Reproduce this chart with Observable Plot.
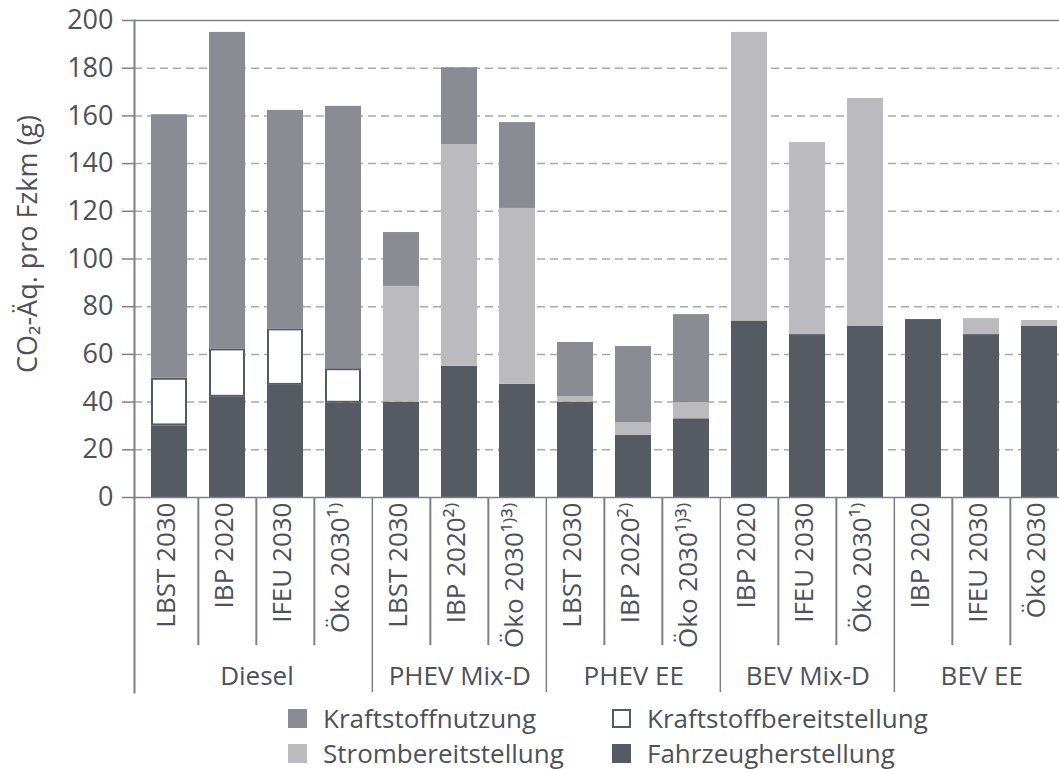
<!DOCTYPE html>
<html>
<head>
<meta charset="utf-8">
<script src="https://cdn.jsdelivr.net/npm/d3@7"></script>
<script src="https://cdn.jsdelivr.net/npm/@observablehq/plot@0.6"></script>
<style>
  html, body { margin: 0; padding: 0; background: #fff; overflow: hidden; }
  #chart svg { overflow: hidden; }
  .legend { position: relative; height: 74px; font-family: "Open Sans", sans-serif; font-size: 26px; color: #4d5159; }
  .item { position: absolute; display: flex; align-items: center; height: 28px; }
  .sw { width: 19px; height: 19px; margin-right: 16px; box-sizing: border-box; }
</style>
</head>
<body>
<div id="chart"></div>
<div class="legend" id="legend"></div>
<script>
const groups = ["Diesel", "PHEV Mix-D", "PHEV EE", "BEV Mix-D", "BEV EE"];
const groupSizes = [4, 3, 3, 3, 3];
const barLabels = [
  "LBST 2030", "IBP 2020", "IFEU 2030", "Öko 2030¹⁾",
  "LBST 2030", "IBP 2020²⁾", "Öko 2030¹⁾³⁾",
  "LBST 2030", "IBP 2020²⁾", "Öko 2030¹⁾³⁾",
  "IBP 2020", "IFEU 2030", "Öko 2030¹⁾",
  "IBP 2020", "IFEU 2030", "Öko 2030"
];
const series = ["Fahrzeugherstellung", "Kraftstoffbereitstellung", "Strombereitstellung", "Kraftstoffnutzung"];
const seriesColors = ["#565a63", "#ffffff", "#bbbbbf", "#8b8b93"];

const fahrzeugherstellung      = [30, 42, 47, 39.5, 40, 55, 47.5, 40, 26, 33, 74, 68.3, 71.7, 74.6, 68.3, 71.7];
const kraftstoffbereitstellung = [20, 20.3, 23.7, 14.5, 0, 0, 0, 0, 0, 0, 0, 0, 0, 0, 0, 0];
const strombereitstellung      = [0, 0, 0, 0, 48.5, 93, 73.7, 2.3, 5.4, 6.8, 121, 80.5, 95.6, 0, 6.7, 2.5];
const kraftstoffnutzung        = [110.5, 132.7, 91.6, 110, 22.6, 32.2, 36, 22.7, 31.9, 36.9, 0, 0, 0, 0, 0, 0];

const yTicks = [0, 20, 40, 60, 80, 100, 120, 140, 160, 180, 200];
const gridTicks = [20, 40, 60, 80, 100, 120, 140, 160, 180];
const yLabel = "CO₂-Äq. pro Fzkm (g)";

// ids for each bar
const barGroup = [];
groups.forEach((g, gi) => { for (let k = 0; k < groupSizes[gi]; k++) barGroup.push(g); });
const ids = barLabels.map((l, i) => i + ":" + barGroup[i] + ":" + l);
const labelOf = new Map(ids.map((id, i) => [id, barLabels[i]]));

const valueArrays = [fahrzeugherstellung, kraftstoffbereitstellung, strombereitstellung, kraftstoffnutzung];
const data = [];
ids.forEach((id, i) => {
  series.forEach((s, si) => {
    const v = valueArrays[si][i];
    if (v > 0) data.push({id, series: s, value: v});
  });
});

const groupFirst = [];
const innerIds = [];
let idx = 0;
groups.forEach((g, gi) => {
  groupFirst.push({id: ids[idx], name: g, n: groupSizes[gi]});
  for (let k = 1; k < groupSizes[gi]; k++) innerIds.push(ids[idx + k]);
  idx += groupSizes[gi];
});

const W = 1059, H = 695, mTop = 20, mBottom = 198, mLeft = 134;
const xRange = [137, 1070];
const step = (xRange[1] - xRange[0]) / ids.length;
const plotH = H - mTop - mBottom;
const axisColor = "#7d8087";
const textColor = "#4d5159";

const groupMarks = groupFirst.map(g => Plot.text([g], {
  x: "id", dx: (g.n - 1) * step / 2, dy: 187, frameAnchor: "bottom",
  text: "name", fontSize: 26, fill: textColor
}));

const chart = Plot.plot({
  width: W, height: H, marginTop: mTop, marginBottom: mBottom, marginLeft: mLeft, marginRight: 0,
  style: {fontFamily: "'Open Sans', sans-serif", color: textColor, background: "#fff"},
  x: {domain: ids, range: xRange, paddingInner: 0.383, paddingOuter: 0.1915},
  y: {domain: [0, 200]},
  color: {domain: series, range: seriesColors},
  marks: [
    Plot.ruleY(gridTicks, {stroke: "#a9a9ad", strokeWidth: 1.5, strokeDasharray: "8,5"}),
    Plot.barY(data, Plot.stackY({
      x: "id", y: "value", z: "series", fill: "series",
      stroke: d => d.series === "Kraftstoffbereitstellung" ? "Fahrzeugherstellung" : d.series,
      strokeWidth: 2, inset: 1,
      order: series
    })),
    Plot.frame({anchor: "top", stroke: axisColor, strokeWidth: 1.5}),
    Plot.frame({anchor: "bottom", stroke: axisColor, strokeWidth: 1.5}),
    Plot.frame({anchor: "left", stroke: axisColor, strokeWidth: 2, insetBottom: -195}),
    Plot.ruleX(innerIds, {x: d => d, dx: -step / 2, insetTop: plotH, insetBottom: -148, stroke: axisColor, strokeWidth: 2}),
    Plot.ruleX(groupFirst.slice(1), {x: "id", dx: -step / 2, insetTop: plotH, insetBottom: -195, stroke: axisColor, strokeWidth: 1.5}),
    Plot.axisY({ticks: yTicks, tickSize: 12, tickPadding: 9, fontSize: 27, stroke: axisColor, strokeWidth: 1.5, color: textColor, label: null}),
    Plot.axisX({tickRotate: -90, tickSize: 0, tickPadding: 5, fontSize: 26, dx: -3, color: textColor, label: null, tickFormat: d => labelOf.get(d)}),
    ...groupMarks,
    Plot.text([yLabel], {frameAnchor: "left", text: d => d, rotate: -90, textAnchor: "middle", dx: -106, dy: -15, fontSize: 27, fill: textColor})
  ]
});
document.getElementById("chart").appendChild(chart);

// legend (HTML, below the SVG), colours from the plot's color scale
const legendItems = [
  {name: "Kraftstoffnutzung", left: 288, top: 9},
  {name: "Kraftstoffbereitstellung", left: 612, top: 9},
  {name: "Strombereitstellung", left: 288, top: 44},
  {name: "Fahrzeugherstellung", left: 612, top: 44}
];
const colorScale = chart.scale("color");
const leg = document.getElementById("legend");
legendItems.forEach(it => {
  const d = document.createElement("div");
  d.className = "item";
  d.style.left = it.left + "px";
  d.style.top = it.top + "px";
  const sw = document.createElement("div");
  sw.className = "sw";
  sw.style.background = colorScale.apply(it.name);
  if (it.name === "Kraftstoffbereitstellung") sw.style.border = "2px solid " + colorScale.apply("Fahrzeugherstellung");
  const t = document.createElement("span");
  t.textContent = it.name;
  d.appendChild(sw); d.appendChild(t);
  leg.appendChild(d);
});
</script>
</body>
</html>
